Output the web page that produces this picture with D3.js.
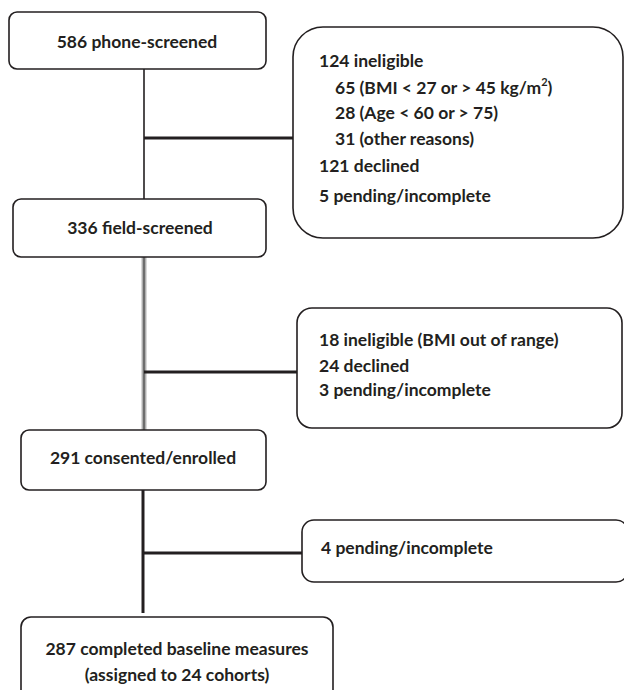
<!DOCTYPE html>
<html>
<head>
<meta charset="utf-8">
<script src="https://cdn.jsdelivr.net/npm/d3@7"></script>
<style>
  html, body { margin: 0; padding: 0; background: #fff; }
  svg { display: block; }
  text { font-family: Lato, "Open Sans", sans-serif; font-weight: bold; fill: #231f20; }
</style>
</head>
<body>
<svg id="chart" width="624" height="690"></svg>
<script>
// ---- data (text content of the flow diagram) ----
const stageLabels = [
  ["586 phone-screened"],
  ["336 field-screened"],
  ["291 consented/enrolled"],
  ["287 completed baseline measures", "(assigned to 24 cohorts)"]
];
const exclusionLines1 = [
  { text: "124 ineligible", indent: 0 },
  { text: "65 (BMI < 27 or > 45 kg/m", sup: "2", tail: ")", indent: 1 },
  { text: "28 (Age < 60 or > 75)", indent: 1 },
  { text: "31 (other reasons)", indent: 1 },
  { text: "121 declined", indent: 0 },
  { text: "5 pending/incomplete", indent: 0 }
];
const exclusionLines2 = [
  { text: "18 ineligible (BMI out of range)", indent: 0 },
  { text: "24 declined", indent: 0 },
  { text: "3 pending/incomplete", indent: 0 }
];
const exclusionLines3 = [
  { text: "4 pending/incomplete", indent: 0 }
];

// ---- layout ----
const svg = d3.select("#chart");
const ink = "#231f20";
const FS = 17.5;
const BASE = 6;

const stageBoxes = [
  { x0: 9,  x1: 266, y0: 12,  y1: 69,  r: 8, cx: 137, cy: [42] },
  { x0: 13, x1: 266, y0: 199, y1: 257, r: 8, cx: 140, cy: [228] },
  { x0: 21, x1: 266, y0: 430, y1: 490, r: 8, cx: 143, cy: [458] },
  { x0: 21, x1: 333, y0: 617, y1: 705, r: 10, cx: 177, cy: [649, 675] }
];
const sideBoxes = [
  { x0: 293, x1: 623, y0: 27,  y1: 238, r: 30, tx: 319, indent: 16, cy: [61, 88, 113, 139, 166, 196], lines: exclusionLines1 },
  { x0: 297, x1: 622, y0: 308, y1: 428, r: 15, tx: 319, indent: 16, cy: [340, 366, 390], lines: exclusionLines2 },
  { x0: 302, x1: 628, y0: 520, y1: 582, r: 12, tx: 321, indent: 16, cy: [548], lines: exclusionLines3 }
];

// connectors
const vLines = [
  { x: 144, y0: 69,  y1: 199, w: 1.6, color: ink },
  { x: 143, y0: 490, y1: 613, w: 3, color: ink }
];
const hLines = [
  { y: 138, x0: 144, x1: 293, w: 3 },
  { y: 372, x0: 144, x1: 297, w: 3 },
  { y: 553, x0: 143, x1: 302, w: 3 }
];

// gray double line between field-screened and consented
svg.append("line").attr("x1", 144).attr("x2", 144).attr("y1", 257).attr("y2", 430)
  .attr("stroke", "#b5b5b5").attr("stroke-width", 5);
svg.append("line").attr("x1", 144).attr("x2", 144).attr("y1", 257).attr("y2", 430)
  .attr("stroke", "#6e6e6e").attr("stroke-width", 2.2);

svg.selectAll("line.v").data(vLines).enter().append("line").attr("class", "v")
  .attr("x1", d => d.x).attr("x2", d => d.x).attr("y1", d => d.y0).attr("y2", d => d.y1)
  .attr("stroke", d => d.color).attr("stroke-width", d => d.w);

svg.selectAll("line.h").data(hLines).enter().append("line").attr("class", "h")
  .attr("x1", d => d.x0).attr("x2", d => d.x1).attr("y1", d => d.y).attr("y2", d => d.y)
  .attr("stroke", ink).attr("stroke-width", d => d.w);

// stage boxes
svg.selectAll("rect.stage").data(stageBoxes).enter().append("rect").attr("class", "stage")
  .attr("x", d => d.x0).attr("y", d => d.y0)
  .attr("width", d => d.x1 - d.x0).attr("height", d => d.y1 - d.y0)
  .attr("rx", d => d.r).attr("ry", d => d.r)
  .attr("fill", "#fff").attr("stroke", ink).attr("stroke-width", 1.6);

stageBoxes.forEach((b, i) => {
  stageLabels[i].forEach((t, j) => {
    svg.append("text")
      .attr("x", b.cx).attr("y", b.cy[j] + BASE)
      .attr("text-anchor", "middle")
      .attr("font-size", FS)
      .text(t);
  });
});

// side boxes
svg.selectAll("rect.side").data(sideBoxes).enter().append("rect").attr("class", "side")
  .attr("x", d => d.x0).attr("y", d => d.y0)
  .attr("width", d => d.x1 - d.x0).attr("height", d => d.y1 - d.y0)
  .attr("rx", d => d.r).attr("ry", d => d.r)
  .attr("fill", "#fff").attr("stroke", ink).attr("stroke-width", 1.6);

sideBoxes.forEach(b => {
  b.lines.forEach((ln, j) => {
    const t = svg.append("text")
      .attr("x", b.tx + ln.indent * b.indent)
      .attr("y", b.cy[j] + BASE)
      .attr("font-size", FS);
    t.append("tspan").text(ln.text);
    if (ln.sup) {
      t.append("tspan").attr("font-size", 11).attr("dy", -8).text(ln.sup);
      t.append("tspan").attr("dy", 8).text(ln.tail);
    }
  });
});
</script>
</body>
</html>
